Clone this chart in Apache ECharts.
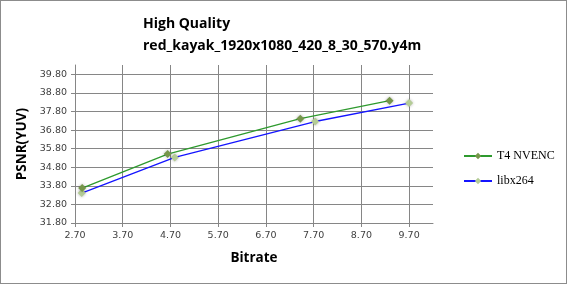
<!DOCTYPE html>
<html>
<head>
<meta charset="utf-8">
<script src="https://cdn.jsdelivr.net/npm/echarts@6/dist/echarts.min.js"></script>
<style>
  html, body { margin: 0; padding: 0; background: #fff; }
  #chart { width: 565px; height: 282px; border: 1px solid #8c8c8c; }
</style>
</head>
<body>
<div id="chart"></div>
<script>
const titleLines = ['High Quality', 'red_kayak_1920x1080_420_8_30_570.y4m'];
const nvencBitrate = [2.85, 4.64, 7.42, 9.29];
const nvencPsnr = [33.68, 35.51, 37.41, 38.38];
const x264Bitrate = [2.84, 4.79, 7.73, 9.70];
const x264Psnr = [33.41, 35.33, 37.26, 38.25];
const xTicks = [2.7, 3.7, 4.7, 5.7, 6.7, 7.7, 8.7, 9.7];
const yTicks = [31.8, 32.8, 33.8, 34.8, 35.8, 36.8, 37.8, 38.8, 39.8];

const chart = echarts.init(document.getElementById('chart'));

const pairs = (xs, ys) => xs.map((x, i) => [x, ys[i]]);
const isTick = (list, v) => list.some(t => Math.abs(t - v) < 1e-6);
const labelFont = { fontFamily: 'DejaVu Sans', fontSize: 9.5, color: '#404040' };
const gridGray = '#868686';
// the extra split line at the padded max is hidden by the last (transparent) colour
const splitColors = n => Array(n).fill(gridGray).concat(['rgba(0,0,0,0)']);

chart.setOption({
  animation: false,
  title: {
    text: titleLines.join('\n'),
    left: 137,
    top: 7,
    textStyle: { fontFamily: 'Open Sans', fontWeight: 'bold', fontSize: 14, lineHeight: 22, color: '#000' }
  },
  grid: { left: 74, right: 133, top: 64, bottom: 60 },
  legend: {
    orient: 'vertical',
    left: 457,
    top: 144,
    itemWidth: 28,
    itemHeight: 8,
    itemGap: 13,
    textStyle: { fontFamily: 'Liberation Serif', fontSize: 12, color: '#000' },
    data: ['T4 NVENC', 'libx264']
  },
  xAxis: {
    type: 'value',
    min: 2.7,
    max: 10.2,
    interval: 1,
    name: 'Bitrate',
    nameLocation: 'middle',
    nameGap: 28,
    nameTextStyle: { fontFamily: 'Open Sans', fontWeight: 'bold', fontSize: 13.5, color: '#000' },
    axisLine: { lineStyle: { color: gridGray } },
    axisTick: { show: true, length: 4, lineStyle: { color: gridGray } },
    axisLabel: {
      ...labelFont,
      margin: 8,
      showMaxLabel: false,
      formatter: v => (isTick(xTicks, v) ? v.toFixed(2) : '')
    },
    splitLine: { show: true, lineStyle: { color: splitColors(xTicks.length), width: 1 } }
  },
  yAxis: {
    type: 'value',
    min: 31.8,
    max: 40.3,
    interval: 1,
    name: 'PSNR(YUV)',
    nameLocation: 'middle',
    nameGap: 35,
    nameTextStyle: { fontFamily: 'Open Sans', fontWeight: 'bold', fontSize: 13.5, color: '#000' },
    axisLine: { show: true, lineStyle: { color: gridGray } },
    axisTick: { show: true, length: 4, lineStyle: { color: gridGray } },
    axisLabel: {
      ...labelFont,
      margin: 8,
      showMaxLabel: false,
      formatter: v => (isTick(yTicks, v) ? v.toFixed(2) : '')
    },
    splitLine: { show: true, lineStyle: { color: splitColors(yTicks.length), width: 1 } }
  },
  series: [
    {
      name: 'T4 NVENC',
      type: 'line',
      data: pairs(nvencBitrate, nvencPsnr),
      symbol: 'diamond',
      symbolSize: 8,
      lineStyle: { color: '#2e9a2e', width: 1.3 },
      itemStyle: { color: '#76964a', shadowColor: 'rgba(0,0,0,0.3)', shadowBlur: 3 },
      z: 3
    },
    {
      name: 'libx264',
      type: 'line',
      data: pairs(x264Bitrate, x264Psnr),
      symbol: 'diamond',
      symbolSize: 8,
      lineStyle: { color: '#1414ff', width: 1.3 },
      itemStyle: { color: '#b4cc96', shadowColor: 'rgba(0,0,0,0.3)', shadowBlur: 3 },
      z: 2
    }
  ]
});
</script>
</body>
</html>
